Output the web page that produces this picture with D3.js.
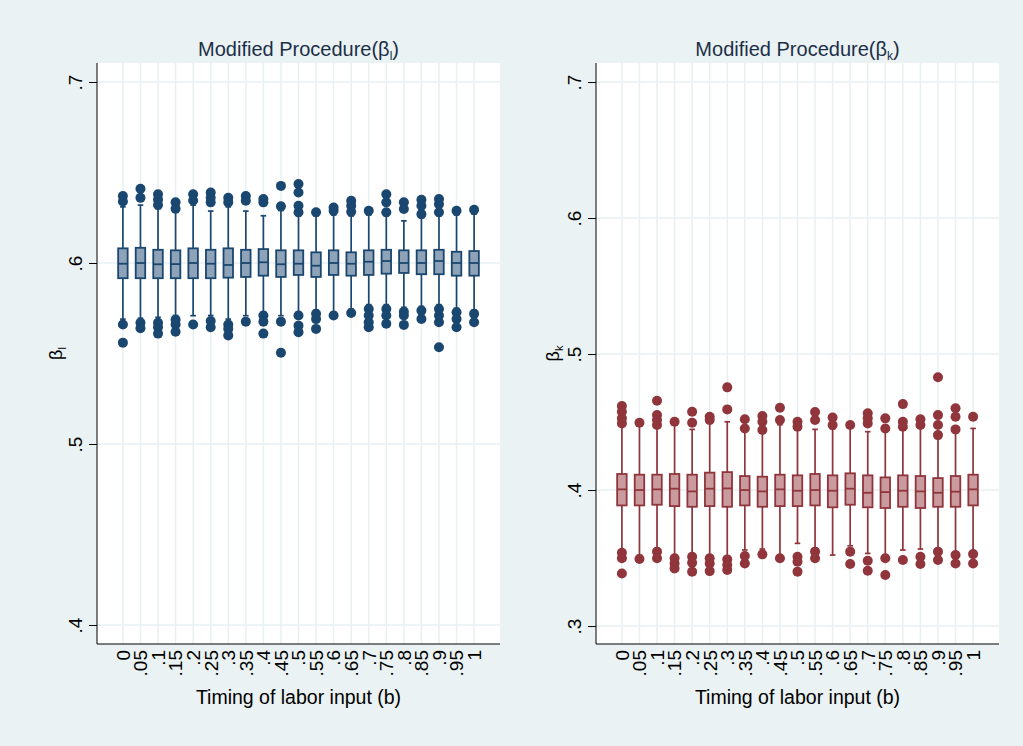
<!DOCTYPE html>
<html>
<head>
<meta charset="utf-8">
<script src="https://d3js.org/d3.v7.min.js"></script>
<style>
  body { margin: 0; background: #eaf2f3; }
  text { font-family: "Liberation Sans", Arial, sans-serif; }
</style>
</head>
<body>
<script>
'use strict';

// timing of labor input categories
const bLabels = ["0", ".05", ".1", ".15", ".2", ".25", ".3", ".35", ".4", ".45", ".5",
                 ".55", ".6", ".65", ".7", ".75", ".8", ".85", ".9", ".95", "1"];

// beta_l (left panel)
const lMed = [0.5996, 0.600, 0.5993, 0.5994, 0.600, 0.5996, 0.5989, 0.600, 0.6004, 0.5993, 0.5996,
              0.5985, 0.600, 0.5996, 0.6007, 0.6011, 0.600, 0.600, 0.6011, 0.600, 0.600];
const lQ1 = [0.5916, 0.5916, 0.5916, 0.5916, 0.5916, 0.5916, 0.5919, 0.5923, 0.593, 0.5923, 0.5934,
             0.5923, 0.5934, 0.593, 0.5934, 0.5941, 0.5945, 0.5938, 0.5938, 0.593, 0.593];
const lQ3 = [0.6081, 0.6084, 0.6073, 0.607, 0.6081, 0.6073, 0.6081, 0.6073, 0.6077, 0.607, 0.607,
             0.6059, 0.607, 0.6059, 0.607, 0.6073, 0.607, 0.607, 0.6073, 0.6062, 0.6066];
const lHi = [0.631, 0.632, 0.630, 0.628, 0.632, 0.6287, 0.631, 0.6287, 0.6261, 0.629, 0.626,
             0.626, 0.6265, 0.626, 0.6265, 0.626, 0.6233, 0.625, 0.626, 0.6265, 0.627];
const lLo = [0.569, 0.5695, 0.570, 0.571, 0.5709, 0.571, 0.569, 0.5709, 0.573, 0.5709, 0.573,
             0.574, 0.573, 0.5745, 0.577, 0.577, 0.5755, 0.576, 0.577, 0.575, 0.574];
const lOutHi = [[0.637, 0.634], [0.641, 0.636], [0.638, 0.635, 0.632], [0.6335, 0.630], [0.638, 0.6345],
                [0.639, 0.636, 0.6335], [0.636, 0.6335], [0.637, 0.6344], [0.6353, 0.6335], [0.6426, 0.6313],
                [0.6436, 0.639, 0.6316, 0.628], [0.628], [0.6307, 0.6289], [0.6344, 0.6316, 0.6283], [0.6289],
                [0.638, 0.6335, 0.628], [0.6335, 0.6298], [0.6349, 0.6316, 0.627], [0.6353, 0.6325, 0.628],
                [0.6289], [0.6294]];
const lOutLo = [[0.566, 0.556], [0.567, 0.564], [0.567, 0.5645, 0.561], [0.5687, 0.566, 0.562], [0.566],
                [0.568, 0.5645], [0.566, 0.5636, 0.560], [0.5676], [0.571, 0.5676, 0.561], [0.5676, 0.5504],
                [0.571, 0.5654, 0.5618], [0.572, 0.569, 0.5636], [0.571], [0.5724], [0.5746, 0.571, 0.5673, 0.5645],
                [0.5746, 0.571, 0.5664], [0.5731, 0.571, 0.5658], [0.5737, 0.5691], [0.5746, 0.571, 0.5673, 0.5535],
                [0.5728, 0.5691, 0.5645], [0.5719, 0.5673]];

// beta_k (right panel)
const rMed = [0.4005, 0.400, 0.4005, 0.401, 0.399, 0.401, 0.4012, 0.400, 0.399, 0.4005, 0.3995,
              0.400, 0.3995, 0.401, 0.398, 0.3985, 0.3995, 0.399, 0.398, 0.3988, 0.4005];
const rQ1 = [0.3887, 0.3887, 0.3892, 0.3882, 0.3877, 0.3882, 0.3877, 0.3887, 0.3877, 0.3882, 0.3882,
             0.3887, 0.3873, 0.3892, 0.3873, 0.3868, 0.3877, 0.3868, 0.3877, 0.3877, 0.3887];
const rQ3 = [0.4118, 0.4113, 0.4113, 0.4118, 0.4113, 0.4128, 0.4132, 0.4103, 0.4098, 0.4113, 0.4108,
             0.4118, 0.4108, 0.4123, 0.4108, 0.4093, 0.4108, 0.4103, 0.4088, 0.4103, 0.4113];
const rHi = [0.447, 0.447, 0.446, 0.448, 0.4446, 0.449, 0.4502, 0.443, 0.442, 0.448, 0.444,
             0.4446, 0.445, 0.446, 0.4429, 0.443, 0.444, 0.446, 0.438, 0.442, 0.4453];
const rLo = [0.356, 0.352, 0.357, 0.352, 0.353, 0.352, 0.351, 0.3559, 0.3566, 0.352, 0.3608,
             0.357, 0.3522, 0.359, 0.3534, 0.352, 0.3559, 0.3566, 0.357, 0.354, 0.355];
const rOutHi = [[0.4618, 0.4576, 0.4527, 0.449], [0.4495], [0.4657, 0.4551, 0.4515, 0.4478], [0.4502],
                [0.4576, 0.4495], [0.4539, 0.4515], [0.4755, 0.4593], [0.452, 0.4453], [0.4544, 0.4502, 0.4441],
                [0.4605, 0.4515], [0.4502, 0.4466], [0.4574, 0.4515], [0.4534, 0.4478], [0.4478],
                [0.4564, 0.4527, 0.449], [0.4527, 0.4453], [0.4632, 0.4502, 0.4466], [0.452, 0.4478],
                [0.4829, 0.4551, 0.4478, 0.4404], [0.4601, 0.4539, 0.4446], [0.4539]];
const rOutLo = [[0.3539, 0.3498, 0.3387], [0.3493], [0.3547, 0.3498], [0.3498, 0.346, 0.3424],
                [0.351, 0.3466, 0.340], [0.3498, 0.346, 0.3404], [0.349, 0.3449, 0.3412], [0.3515, 0.346],
                [0.3527], [0.3498], [0.351, 0.3473, 0.340], [0.3547, 0.3498], [], [0.3547, 0.3456],
                [0.348, 0.3407], [0.3498, 0.3375], [0.3485], [0.351, 0.3456], [0.3547, 0.3485],
                [0.3522, 0.346], [0.3529, 0.346]];

const lTicks = [0.4, 0.5, 0.6, 0.7];
const rTicks = [0.3, 0.4, 0.5, 0.6, 0.7];

const svg = d3.select('body').append('svg')
  .attr('width', 1023)
  .attr('height', 746);

svg.append('rect')
  .attr('width', 1023).attr('height', 746)
  .attr('fill', '#eaf2f3');

// left panel: beta_l
drawPanel({
  left: 97, right: 500, top: 63, bottom: 644,
  domain: [0.3895, 0.7105], ticks: lTicks,
  med: lMed, q1: lQ1, q3: lQ3, hi: lHi, lo: lLo, outHi: lOutHi, outLo: lOutLo,
  stroke: '#1a476f', fill: '#8ea3b8', sub: 'l', ytitleX: 56
});

// right panel: beta_k
drawPanel({
  left: 596, right: 999, top: 63, bottom: 644,
  domain: [0.2868, 0.714], ticks: rTicks,
  med: rMed, q1: rQ1, q3: rQ3, hi: rHi, lo: rLo, outHi: rOutHi, outLo: rOutLo,
  stroke: '#90353b', fill: '#c99b9f', sub: 'k', ytitleX: 553
});

function drawPanel(p) {
  let g = svg.append('g');

  let x = d3.scalePoint()
    .domain(bLabels)
    .range([p.left, p.right])
    .padding(1.475);

  let y = d3.scaleLinear()
    .domain(p.domain)
    .range([p.bottom, p.top]);

  // plot region
  g.append('rect')
    .attr('x', p.left).attr('y', p.top)
    .attr('width', p.right - p.left).attr('height', p.bottom - p.top)
    .attr('fill', '#ffffff');

  // grid lines
  g.selectAll('.vgrid').data(bLabels).enter()
    .append('line')
    .attr('x1', d => x(d)).attr('x2', d => x(d))
    .attr('y1', p.top).attr('y2', p.bottom)
    .attr('stroke', '#e8f0f2').attr('stroke-width', 1.5);

  g.selectAll('.hgrid').data(p.ticks).enter()
    .append('line')
    .attr('x1', p.left).attr('x2', p.right)
    .attr('y1', d => y(d)).attr('y2', d => y(d))
    .attr('stroke', '#e8f0f2').attr('stroke-width', 1.5);

  // y axis
  let yAxis = d3.axisLeft(y)
    .tickValues(p.ticks)
    .tickSize(8)
    .tickFormat(d => d3.format('.1f')(d).replace(/^0/, ''));
  let ya = g.append('g')
    .attr('transform', 'translate(' + p.left + ',0)')
    .call(yAxis);
  ya.select('.domain').attr('d', 'M0,' + p.top + 'V' + p.bottom).attr('stroke', '#000');
  ya.selectAll('.tick line').attr('stroke', '#000');
  ya.selectAll('.tick text')
    .attr('transform', 'rotate(-90)')
    .attr('x', 0).attr('y', -15)
    .attr('dy', 0)
    .attr('text-anchor', 'middle')
    .style('font-size', '19px')
    .attr('fill', '#000');

  // x axis line
  g.append('line')
    .attr('x1', p.left).attr('x2', p.right)
    .attr('y1', p.bottom).attr('y2', p.bottom)
    .attr('stroke', '#000').attr('stroke-width', 1.2);

  // x tick labels, rotated
  g.selectAll('.xlab').data(bLabels).enter()
    .append('text')
    .attr('transform', d => 'translate(' + x(d) + ',' + (p.bottom + 6) + ')rotate(-90)')
    .attr('dy', '0.36em')
    .attr('text-anchor', 'end')
    .style('font-size', '19px')
    .text(d => d);

  // boxes
  let rows = bLabels.map((b, i) => ({
    b: b, med: p.med[i], q1: p.q1[i], q3: p.q3[i], hi: p.hi[i], lo: p.lo[i],
    out: p.outHi[i].concat(p.outLo[i])
  }));

  let bw = 9.5;
  let box = g.selectAll('.box').data(rows).enter().append('g');

  // whiskers
  box.append('line')
    .attr('x1', d => x(d.b)).attr('x2', d => x(d.b))
    .attr('y1', d => y(d.q3)).attr('y2', d => y(d.hi))
    .attr('stroke', p.stroke).attr('stroke-width', 1.7);
  box.append('line')
    .attr('x1', d => x(d.b)).attr('x2', d => x(d.b))
    .attr('y1', d => y(d.q1)).attr('y2', d => y(d.lo))
    .attr('stroke', p.stroke).attr('stroke-width', 1.7);
  // caps
  box.append('line')
    .attr('x1', d => x(d.b) - 2.8).attr('x2', d => x(d.b) + 2.8)
    .attr('y1', d => y(d.hi)).attr('y2', d => y(d.hi))
    .attr('stroke', p.stroke).attr('stroke-width', 1.7);
  box.append('line')
    .attr('x1', d => x(d.b) - 2.8).attr('x2', d => x(d.b) + 2.8)
    .attr('y1', d => y(d.lo)).attr('y2', d => y(d.lo))
    .attr('stroke', p.stroke).attr('stroke-width', 1.7);

  box.append('rect')
    .attr('x', d => x(d.b) - bw / 2)
    .attr('y', d => y(d.q3))
    .attr('width', bw)
    .attr('height', d => y(d.q1) - y(d.q3))
    .attr('fill', p.fill)
    .attr('stroke', p.stroke).attr('stroke-width', 1.8);

  box.append('line')
    .attr('x1', d => x(d.b) - bw / 2).attr('x2', d => x(d.b) + bw / 2)
    .attr('y1', d => y(d.med)).attr('y2', d => y(d.med))
    .attr('stroke', p.stroke).attr('stroke-width', 1.8);

  // outside values
  box.selectAll('circle')
    .data(d => d.out.map(v => ({ b: d.b, v: v })))
    .enter().append('circle')
    .attr('cx', d => x(d.b))
    .attr('cy', d => y(d.v))
    .attr('r', 5)
    .attr('fill', p.stroke);

  // titles
  let cx = (p.left + p.right) / 2;
  let t = g.append('text')
    .attr('x', cx).attr('y', 56)
    .attr('text-anchor', 'middle')
    .style('font-size', '20px')
    .attr('fill', '#1c2f48');
  t.append('tspan').text('Modified Procedure(β');
  t.append('tspan').attr('dy', 4).style('font-size', '12px').text(p.sub);
  t.append('tspan').attr('dy', -4).text(')');

  g.append('text')
    .attr('x', cx).attr('y', 704)
    .attr('text-anchor', 'middle')
    .style('font-size', '19.5px')
    .text('Timing of labor input (b)');

  let yt = g.append('text')
    .attr('transform', 'translate(' + p.ytitleX + ',' + ((p.top + p.bottom) / 2) + ')rotate(-90)')
    .attr('text-anchor', 'middle')
    .attr('dy', '0.35em')
    .style('font-size', '18px');
  yt.append('tspan').text('β');
  yt.append('tspan').attr('dy', 4).style('font-size', '11px').text(p.sub);
}
</script>
</body>
</html>
